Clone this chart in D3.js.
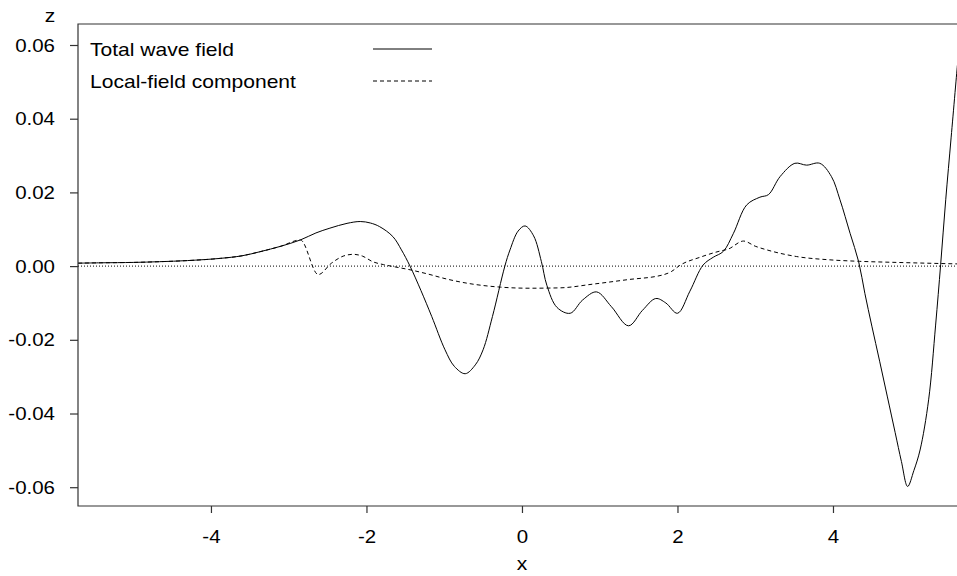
<!DOCTYPE html>
<html>
<head>
<meta charset="utf-8">
<script src="https://cdn.jsdelivr.net/npm/d3@7"></script>
<style>
  html, body { margin: 0; padding: 0; background: #fff; }
  svg { display: block; font-family: "Liberation Sans", Arial, Helvetica, sans-serif; }
</style>
</head>
<body>
<svg id="chart" width="957" height="576"></svg>
<script>
// ---- data ----
const totalX = [-5.71, -5.4, -5.0, -4.66, -4.3, -3.88, -3.6, -3.37, -3.1, -2.85, -2.65, -2.47, -2.25, -2.08, -1.95, -1.83, -1.66, -1.55, -1.44, -1.30, -1.16, -0.99, -0.87, -0.73, -0.60, -0.50, -0.38, -0.22, -0.154, -0.05, 0.04, 0.15, 0.25, 0.32, 0.45, 0.62, 0.78, 0.96, 1.15, 1.37, 1.55, 1.72, 1.85, 2.0, 2.16, 2.33, 2.46, 2.59, 2.72, 2.89, 3.06, 3.17, 3.32, 3.51, 3.66, 3.83, 3.98, 4.09, 4.22, 4.33, 4.41, 4.50, 4.60, 4.70, 4.80, 4.88, 4.96, 5.04, 5.12, 5.23, 5.32, 5.385, 5.45, 5.52, 5.60];
const totalZ = [0.0008, 0.0009, 0.0010, 0.0012, 0.0015, 0.0021, 0.0028, 0.0039, 0.0054, 0.0071, 0.0090, 0.0103, 0.0116, 0.0121, 0.0117, 0.0107, 0.0080, 0.0044, 0.0000, -0.0066, -0.0137, -0.0227, -0.0272, -0.0292, -0.0268, -0.0227, -0.0137, 0.0000, 0.0044, 0.0095, 0.0109, 0.0082, 0.0012, -0.0052, -0.0112, -0.0128, -0.0092, -0.0070, -0.0110, -0.0162, -0.0120, -0.0088, -0.0100, -0.0128, -0.0068, 0.0003, 0.0024, 0.0040, 0.0089, 0.0166, 0.0187, 0.0194, 0.0243, 0.0279, 0.0274, 0.0279, 0.0243, 0.0180, 0.0089, 0.0012, -0.0074, -0.0163, -0.0258, -0.0355, -0.0452, -0.0530, -0.0598, -0.0555, -0.0499, -0.0363, -0.0160, 0.0005, 0.0180, 0.0350, 0.0545];

const localX = [-5.71, -5.4, -5.0, -4.66, -4.3, -3.88, -3.6, -3.37, -3.1, -2.85, -2.62, -2.45, -2.3, -2.17, -2.05, -1.92, -1.78, -1.66, -1.44, -1.2, -0.97, -0.63, -0.28, 0.10, 0.49, 0.91, 1.35, 1.81, 1.92, 2.03, 2.29, 2.55, 2.65, 2.85, 3.0, 3.15, 3.53, 3.96, 4.34, 4.82, 5.60];
const localZ = [0.0008, 0.0009, 0.0010, 0.0012, 0.0015, 0.0021, 0.0028, 0.0039, 0.0054, 0.0071, -0.0023, 0.0008, 0.0027, 0.0032, 0.0027, 0.0012, 0.0004, -0.0001, -0.0010, -0.0022, -0.0035, -0.0049, -0.0057, -0.0060, -0.0059, -0.0049, -0.0037, -0.0024, -0.0015, 0.0002, 0.0024, 0.0041, 0.0046, 0.0068, 0.0054, 0.0044, 0.0026, 0.0017, 0.0013, 0.0010, 0.0006];

const xTicks = [-4, -2, 0, 2, 4];
const yTicks = [-0.06, -0.04, -0.02, 0.00, 0.02, 0.04, 0.06];
const legendLabels = ["Total wave field", "Local-field component"];
const xLabel = "x";
const yLabel = "z";

// ---- layout ----
const L = 78, T = 24, R = 957, B = 506;
const SX = 1.17; // horizontal text stretch

const svg = d3.select("#chart");
const x = d3.scaleLinear().domain([-5.71, 5.595]).range([L, R]);
const y = d3.scaleLinear().domain([-0.0651, 0.0657]).range([B, T]);

svg.append("defs").append("clipPath").attr("id", "clip")
  .append("rect").attr("x", L).attr("y", T).attr("width", R - L + 2).attr("height", B - T);

// zero reference line
svg.append("line")
  .attr("x1", L).attr("x2", R).attr("y1", y(0)).attr("y2", y(0))
  .attr("stroke", "#000").attr("stroke-width", 1).attr("stroke-dasharray", "1,2");

const plot = svg.append("g").attr("clip-path", "url(#clip)");

const totalData = totalX.map((v, i) => [v, totalZ[i]]);
const localData = localX.map((v, i) => [v, localZ[i]]);

plot.append("path")
  .datum(localData)
  .attr("fill", "none").attr("stroke", "#000").attr("stroke-width", 1)
  .attr("stroke-dasharray", "4,3")
  .attr("d", d3.line().x(d => x(d[0])).y(d => y(d[1])).curve(d3.curveMonotoneX));

plot.append("path")
  .datum(totalData)
  .attr("fill", "none").attr("stroke", "#000").attr("stroke-width", 1)
  .attr("d", d3.line().x(d => x(d[0])).y(d => y(d[1])).curve(d3.curveCatmullRom.alpha(0.5)));

// frame (left, top, bottom)
svg.append("path")
  .attr("d", `M${R + 2},${T}H${L}V${B}H${R + 2}`)
  .attr("fill", "none").attr("stroke", "#333").attr("stroke-width", 1.2);

// y axis
const yAxis = svg.append("g").attr("transform", `translate(${L},0)`)
  .call(d3.axisLeft(y).tickValues(yTicks).tickSize(8).tickFormat(d => d.toFixed(2)));
yAxis.select(".domain").remove();
yAxis.selectAll(".tick line").attr("stroke", "#333").attr("stroke-width", 1.2);
yAxis.selectAll(".tick text")
  .attr("x", -23 / SX).attr("dy", null).attr("y", 6)
  .attr("transform", `scale(${SX},1)`)
  .attr("font-size", 17.5).attr("fill", "#000")
  .attr("font-family", "Liberation Sans, Arial, sans-serif");

// x axis
const xAxis = svg.append("g").attr("transform", `translate(0,${B})`)
  .call(d3.axisBottom(x).tickValues(xTicks).tickSize(7).tickFormat(d => String(d)));
xAxis.select(".domain").remove();
xAxis.selectAll(".tick line").attr("stroke", "#333").attr("stroke-width", 1.2);
xAxis.selectAll(".tick text")
  .attr("y", 37).attr("dy", null)
  .attr("transform", `scale(${SX},1)`)
  .attr("font-size", 17.5).attr("fill", "#000")
  .attr("font-family", "Liberation Sans, Arial, sans-serif");

function stretchedText(px, py, txt, anchor) {
  svg.append("g").attr("transform", `translate(${px},${py}) scale(${SX},1)`)
    .append("text").attr("text-anchor", anchor).attr("font-size", 18).attr("fill", "#000")
    .text(txt);
}

stretchedText(x(0), 570, xLabel, "middle");
stretchedText(50, 21.5, yLabel, "middle");

// legend
const legendY = [49, 81];
const legendDash = [null, "4,3"];
legendLabels.forEach((lab, i) => {
  stretchedText(90, legendY[i] + 6.5, lab, "start");
  svg.append("line")
    .attr("x1", 373).attr("x2", 432).attr("y1", legendY[i]).attr("y2", legendY[i])
    .attr("stroke", "#000").attr("stroke-width", 1)
    .attr("stroke-dasharray", legendDash[i]);
});
</script>
</body>
</html>
